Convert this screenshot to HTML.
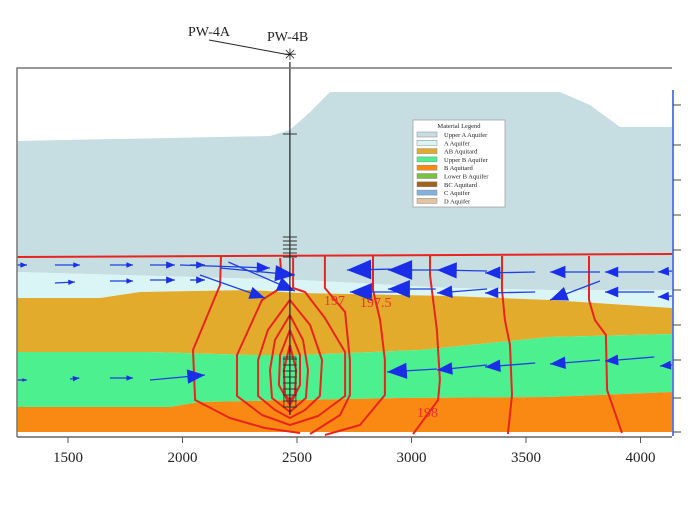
<!DOCTYPE html>
<html><head><meta charset="utf-8"><style>
body{margin:0;background:#fff}
svg{display:block;font-family:"Liberation Serif",serif}
</style></head><body>
<svg id="c" width="700" height="525" viewBox="0 0 700 525">
<text x="188" y="36" font-size="14" fill="#222">PW-4A</text>
<text x="267" y="41" font-size="14" fill="#222">PW-4B</text>
<line x1="209" y1="40" x2="290" y2="55" stroke="#222" stroke-width="1"/>
<text x="290" y="60" font-size="16" text-anchor="middle" fill="#222">✳</text>
<g id="layers"></g>
<g id="contours"></g>
<g id="arrows"></g>
<g id="well"></g>
<g id="axes"></g>
<g>
<rect x="413" y="120" width="92" height="87" fill="#fff" stroke="#999" stroke-width="0.7"/>
<text x="459" y="128" font-size="6.5" text-anchor="middle" fill="#222">Material Legend</text>
<g id="legend"></g>
</g>
<g id="labels">
<text x="324" y="305" font-size="14" fill="#e8302a">197</text>
<text x="360" y="307" font-size="14" fill="#e8302a">197.5</text>
<text x="417" y="417" font-size="14" fill="#e8302a">198</text>
</g>
</svg>
<script>
const xTicks=[1500,2000,2500,3000,3500,4000];
const layerNames=["Upper A Aquifer","A Aquifer","AB Aquitard","Upper B Aquifer","B Aquitard","Lower B Aquifer","BC Aquitard","C Aquifer","D Aquifer"];
const layerColors=["#c6dde2","#d9f5f6","#e3ab2b","#4df08e","#fa8914","#7ac142","#a0631e","#7fb2e0","#e3c49e"];
const bUpperATop=[[1277,296],[2382,301],[2469,307],[2557,325],[2644,345],[3648,345],[3779,332],[3910,310],[4138,310]];
const bUpperABot=[[1277,165],[2513,157],[3168,149],[3605,147],[4138,147]];
const bABot=[[1277,139],[1640,139],[1814,145],[2295,147],[2513,144],[3168,141],[3605,137],[4138,129]];
const bABBot=[[1277,85],[1858,85],[2295,82],[2513,82],[3037,87],[3605,100],[4138,103]];
const bUBBot=[[1277,30],[1945,30],[2076,35],[2950,39],[3605,40],[4138,45]];
const bBBot=[[1277,5],[4138,5]];
const contourLoop1=[[2426,179],[2435,150],[2347,137],[2238,82],[2238,41],[2347,22],[2469,12],[2592,21],[2710,41],[2710,85],[2622,119],[2535,145],[2483,149],[2483,179]];
const contourLoop2=[[2469,137],[2373,107],[2330,77],[2330,41],[2404,27],[2469,19],[2535,27],[2600,41],[2609,77],[2557,112],[2469,137]];
const contourLoop3=[[2469,122],[2404,97],[2382,67],[2391,39],[2469,25],[2539,39],[2548,67],[2526,97],[2469,122]];
const contourLoop4=[[2469,107],[2426,82],[2421,52],[2469,32],[2513,52],[2513,82],[2469,107]];
const contourLoop5=[[2469,92],[2443,67],[2448,42],[2469,37],[2491,42],[2496,67],[2469,92]];
const contourOuter=[[2168,181],[2164,152],[2046,87],[2055,37],[2207,19],[2360,9],[2513,4]];
const contour197=[[2622,181],[2622,149],[2710,125],[2731,77],[2731,42],[2688,22],[2557,3]];
const contour1975=[[2832,181],[2832,147],[2863,117],[2884,77],[2884,42],[2775,12],[2622,2]];
const contour198a=[[3081,181],[3081,162],[3111,107],[3124,57],[3116,37],[3007,3]];
const contour198b=[[3395,181],[3395,147],[3408,117],[3430,92],[3439,42],[3421,3]];
const contour198c=[[3775,181],[3775,137],[3801,117],[3849,102],[3854,47],[3919,4]];
const topBoundary=[[1277,180],[4138,183]];
const arrowsData=[
[1277,172,1321,172,3],[1443,172,1552,172,3],[1683,172,1784,172,3],[1858,172,1967,172,4],[2033,172,2098,172,4],
[1443,154,1530,155,3],[1683,156,1784,156,3],[1858,157,1967,157,4],[2033,157,2098,157,4],
[1989,172,2382,169,6],[2076,162,2360,139,7],[2164,169,2491,162,9],[2200,175,2491,146,8],
[2936,168,2718,167,11],[3115,167,2897,167,11],[3330,166,3111,167,9],[3540,165,3321,164,7],[3823,165,3605,165,7],[4060,165,3845,165,6],[4138,166,4076,165,5],
[2950,145,2731,145,10],[3106,148,2897,148,10],[3330,148,3111,144,7],[3540,145,3321,144,6],[3823,156,3605,137,8],[4060,145,3845,145,6],[4138,141,4076,140,5],
[3111,68,2893,65,9],[3330,72,3111,67,7],[3540,74,3321,70,7],[3823,77,3605,73,7],[4060,80,3845,76,6],[4138,72,4085,71,5],
[1277,57,1320,57,2],[1509,58,1550,59,3],[1683,59,1784,59,3],[1858,57,2098,62,8]];
const wellX=2469;
const wellBars=[303,200,196,192,188,184,180];
const screenBars=[78,72,66,60,54,48,42,36,30];

const x=v=>68+(v-1500)*0.229;
const y=e=>437-e;
const NS="http://www.w3.org/2000/svg";
function mk(tag,parent,attrs){const el=document.createElementNS(NS,tag);for(const k in attrs)el.setAttribute(k,attrs[k]);document.getElementById(parent).appendChild(el);return el;}
const pts=a=>a.map(p=>x(p[0]).toFixed(1)+","+y(p[1]).toFixed(1)).join(" ");

const bounds=[bUpperATop,bUpperABot,bABot,bABBot,bUBBot,bBBot];
for(let i=0;i<5;i++){
  const poly=bounds[i].concat(bounds[i+1].slice().reverse());
  const el=mk("polygon","layers",{points:pts(poly),fill:layerColors[i]});
  
  
}
const contours=[contourLoop1,contourLoop2,contourLoop3,contourLoop4,contourLoop5,contourOuter,contour197,contour1975,contour198a,contour198b,contour198c,topBoundary];
contours.forEach((c,i)=>{
  const el=mk("polyline","contours",{points:pts(c),fill:"none",stroke:"#e8241f","stroke-width":2,"stroke-linejoin":"round"});
  
  
});
arrowsData.forEach(a=>{
  const x1=x(a[0]),y1=y(a[1]),x2=x(a[2]),y2=y(a[3]),s=a[4];
  const g=mk("g","arrows",{});
  
  
  const ln=document.createElementNS(NS,"line");
  ln.setAttribute("x1",x1);ln.setAttribute("y1",y1);ln.setAttribute("x2",x2);ln.setAttribute("y2",y2);
  ln.setAttribute("stroke","#1f3fe0");ln.setAttribute("stroke-width",1.3);g.appendChild(ln);
  if(s>0){
    const ang=Math.atan2(y2-y1,x2-x1),L=s*2.2,W=s*0.9;
    const bx=x2-Math.cos(ang)*L,by=y2-Math.sin(ang)*L;
    const p=document.createElementNS(NS,"polygon");
    p.setAttribute("points",`${x2},${y2} ${bx-Math.sin(ang)*W},${by+Math.cos(ang)*W} ${bx+Math.sin(ang)*W},${by-Math.cos(ang)*W}`);
    p.setAttribute("fill","#1a2ee8");g.appendChild(p);
  }
});
// well
const wx=x(wellX);
let el=mk("line","well",{x1:wx,y1:62,x2:wx,y2:y(22),stroke:"#222","stroke-width":1.2});


wellBars.concat(screenBars).forEach(e=>{
  const b=mk("line","well",{x1:wx-7,y1:y(e),x2:wx+7,y2:y(e),stroke:"#333","stroke-width":1});
  
  
});
el=mk("rect","well",{x:wx-6,y:y(80),width:12,height:50,fill:"none",stroke:"#333","stroke-width":0.8});


// axes
el=mk("polyline","axes",{points:"17,437 17,68 672,68",fill:"none",stroke:"#777","stroke-width":1.5});


el=mk("line","axes",{x1:17,y1:437,x2:672,y2:437,stroke:"#666","stroke-width":1.5});


el=mk("line","axes",{x1:673,y1:90,x2:673,y2:436,stroke:"#3050e0","stroke-width":1.5});


[105,145,180,215,250,290,325,360,398,432].forEach(t=>{
  const k=mk("line","axes",{x1:673,y1:t,x2:681,y2:t,stroke:"#444","stroke-width":1});
  
  
});
xTicks.forEach(t=>{
  const k=mk("line","axes",{x1:x(t),y1:437,x2:x(t),y2:443,stroke:"#555","stroke-width":1});
  
  
  const tx=mk("text","axes",{x:x(t),y:462,"font-size":15,"text-anchor":"middle",fill:"#222"});
  tx.textContent=t;
  
  
});
// legend
layerNames.forEach((n,i)=>{
  const yy=132+i*8.3;
  const r=mk("rect","legend",{x:417,y:yy,width:20,height:5,fill:layerColors[i],stroke:"#888","stroke-width":0.5});
  
  
  const t=mk("text","legend",{x:444,y:yy+5,"font-size":6.5,fill:"#222"});
  t.textContent=n;
  
  
});
</script>
</body></html>
